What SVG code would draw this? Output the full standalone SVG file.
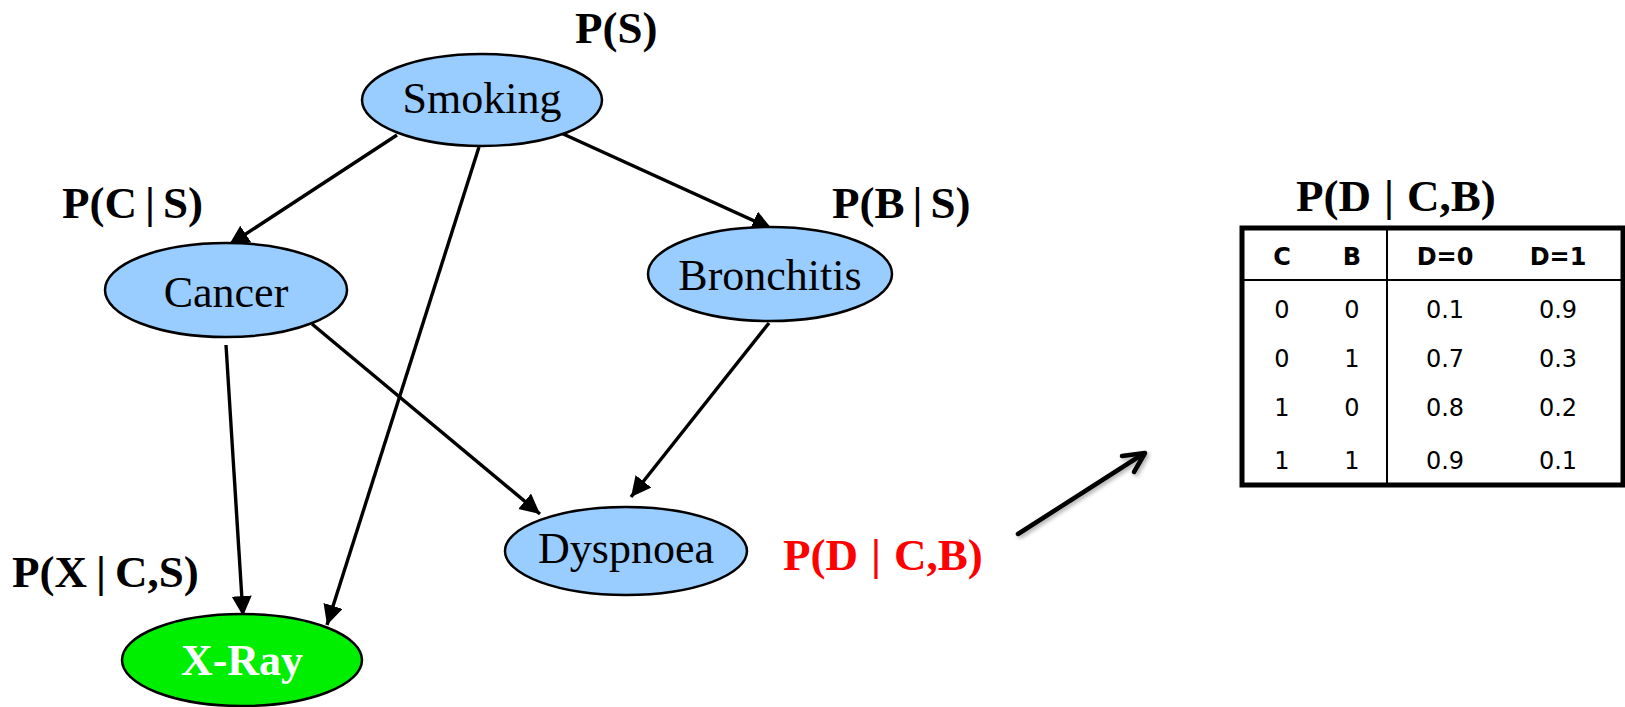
<svg xmlns="http://www.w3.org/2000/svg" width="1625" height="707" viewBox="0 0 1625 707">
  <style>
    .node { fill: #99ccff; stroke: #000; stroke-width: 2.5; }
    .xray { fill: #00ee00; stroke: #000; stroke-width: 2.5; }
    .nlabel { font-family: "Liberation Serif", serif; font-size: 44px; text-anchor: middle; fill: #000; }
    .cpt { font-family: "Liberation Serif", serif; font-size: 45px; font-weight: bold; fill: #000; }
    .edge { stroke: #000; stroke-width: 3.4; fill: none; marker-end: url(#arrow); }
    .tbl { font-family: "DejaVu Sans", Verdana, sans-serif; font-size: 24px; text-anchor: middle; fill: #000; }
    .th { font-weight: bold; }
  </style>
  <defs>
    <marker id="arrow" markerUnits="userSpaceOnUse" markerWidth="22" markerHeight="22" refX="20" refY="10" orient="auto">
      <path d="M0,0 L20,10 L0,20 Z" fill="#000"/>
    </marker>
    <filter id="soft" x="-20%" y="-20%" width="140%" height="140%">
      <feGaussianBlur in="SourceAlpha" stdDeviation="2"/>
      <feOffset dx="2" dy="2" result="sh"/>
      <feComponentTransfer><feFuncA type="linear" slope="0.35"/></feComponentTransfer>
      <feMerge><feMergeNode/><feMergeNode in="SourceGraphic"/></feMerge>
    </filter>
  </defs>
  <rect width="1625" height="707" fill="#fff"/>

  <!-- connectors -->
  <g id="edges">
    <line class="edge" x1="397" y1="135" x2="229" y2="245"/>
    <line class="edge" x1="479" y1="147" x2="327" y2="625"/>
    <line class="edge" x1="561" y1="133" x2="772" y2="229"/>
    <line class="edge" x1="226" y1="345" x2="243" y2="616"/>
    <line class="edge" x1="312" y1="324" x2="540" y2="514"/>
    <line class="edge" x1="769" y1="323" x2="631" y2="497"/>
    <!-- pointer from the Dyspnoea label to its table -->
    <g filter="url(#soft)" stroke="#000" stroke-width="4.5" stroke-linecap="round" stroke-linejoin="round" fill="none">
      <line x1="1018" y1="534" x2="1143" y2="454"/>
      <polyline points="1122,456 1145,453 1134,472"/>
    </g>
  </g>

  <g id="smoking">
    <ellipse class="node" cx="482" cy="100" rx="120" ry="46"/>
    <text class="nlabel" x="482" y="113">Smoking</text>
  </g>
  <g id="cancer">
    <ellipse class="node" cx="226" cy="290" rx="121" ry="47"/>
    <text class="nlabel" x="226" y="307">Cancer</text>
  </g>
  <g id="bronchitis">
    <ellipse class="node" cx="770" cy="274" rx="122" ry="47"/>
    <text class="nlabel" x="770" y="290">Bronchitis</text>
  </g>
  <g id="dyspnoea">
    <ellipse class="node" cx="626" cy="551" rx="121" ry="44"/>
    <text class="nlabel" x="626" y="563">Dyspnoea</text>
  </g>
  <g id="xray">
    <ellipse class="xray" cx="242" cy="660" rx="120" ry="46"/>
    <text class="nlabel" x="242" y="675" style="fill:#fff;font-weight:bold">X-Ray</text>
  </g>

  <!-- conditional probability labels -->
  <g id="labels">
    <text class="cpt" x="575" y="43">P(S)</text>
    <text class="cpt" x="62" y="218">P(C<tspan dx="8">|</tspan><tspan dx="8">S)</tspan></text>
    <text class="cpt" x="832" y="218">P(B<tspan dx="8">|</tspan><tspan dx="8">S)</tspan></text>
    <text class="cpt" x="12" y="587">P(X<tspan dx="9">|</tspan><tspan dx="9">C,S)</tspan></text>
    <text class="cpt" x="783" y="570" style="fill:#ff0000">P(D<tspan dx="13">|</tspan><tspan dx="13">C,B)</tspan></text>
  </g>

  <!-- CPT for Dyspnoea -->
  <g id="cpt-table">
    <text class="cpt" x="1296" y="211">P(D<tspan dx="13">|</tspan><tspan dx="13">C,B)</tspan></text>
    <rect x="1242" y="228" width="381" height="257" fill="#fff" stroke="#000" stroke-width="5"/>
    <line x1="1242" y1="280" x2="1623" y2="280" stroke="#000" stroke-width="2"/>
    <line x1="1387" y1="228" x2="1387" y2="485" stroke="#000" stroke-width="2"/>
    <g class="tbl">
      <text class="th" x="1282" y="265">C</text>
      <text class="th" x="1352" y="265">B</text>
      <text class="th" x="1445" y="265">D=0</text>
      <text class="th" x="1558" y="265">D=1</text>

      <text x="1282" y="318">0</text><text x="1352" y="318">0</text>
      <text x="1445" y="318">0.1</text><text x="1558" y="318">0.9</text>

      <text x="1282" y="367">0</text><text x="1352" y="367">1</text>
      <text x="1445" y="367">0.7</text><text x="1558" y="367">0.3</text>

      <text x="1282" y="416">1</text><text x="1352" y="416">0</text>
      <text x="1445" y="416">0.8</text><text x="1558" y="416">0.2</text>

      <text x="1282" y="469">1</text><text x="1352" y="469">1</text>
      <text x="1445" y="469">0.9</text><text x="1558" y="469">0.1</text>
    </g>
  </g>
</svg>
